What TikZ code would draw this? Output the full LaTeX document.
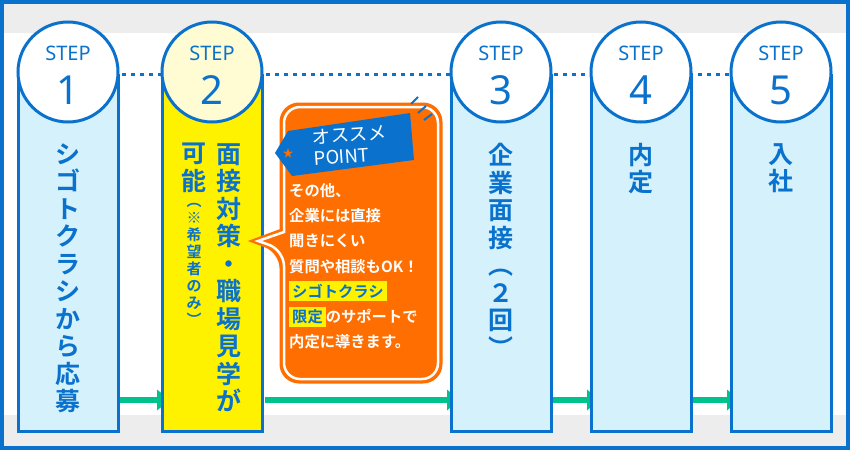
\documentclass[tikz,border=0pt]{standalone}
\usepackage{fontspec}
\setmainfont{Noto Sans CJK JP}[BoldFont={* Bold}]
\newfontfamily\stepfont{Noto Sans}
\usetikzlibrary{arrows.meta}
\definecolor{bl}{HTML}{0A72CC}
\definecolor{lb}{HTML}{D4F1FC}
\definecolor{yl}{HTML}{FFF200}
\definecolor{cy}{HTML}{FFFBD2}
\definecolor{og}{HTML}{FF6E00}
\definecolor{gn}{HTML}{00C28C}
\definecolor{gy}{HTML}{EDEDED}
\begin{document}
\begin{tikzpicture}[x=1pt,y=-1pt,
  col/.style={draw=bl,line width=3pt},
  circ/.style={draw=bl,line width=3pt,fill=white,circle,minimum size=100pt,inner sep=0pt},
  vt/.style={text=bl,font=\bfseries\fontsize{25}{27.5}\selectfont,align=center,anchor=north,inner sep=0pt},
  garr/.style={gn,line width=6pt,-{Triangle[length=13pt,width=20pt]}},
  dots/.style={bl,line width=3pt,dash pattern=on 4pt off 5pt}]
\useasboundingbox (0,0) rectangle (850,450);
\fill[gy] (0,0) rectangle (850,450);
\fill[white] (0,33) rectangle (850,415);
\draw[bl,line width=4pt] (2,2) rectangle (848,448);
% dotted line
\draw[dots] (68,74) -- (781,74);
% arrows
\draw[garr] (120,400) -- (170,400);
\draw[garr] (265,400) -- (460,400);
\draw[garr] (553,400) -- (600,400);
\draw[garr] (693,400) -- (740,400);
% columns
\foreach \c/\f/\cf/\n in {68/lb/white/1,212/yl/cy/2,501/lb/white/3,641/lb/white/4,781/lb/white/5}{
  \draw[col,fill=\f] (\c-50,75) rectangle (\c+50,431);
  \node[circ,fill=\cf] (s\n) at (\c,72) {};
  \node[text=bl,font=\stepfont\fontsize{20}{20}\selectfont] at (\c,53) {STEP};
  \node[text=bl,font=\stepfont\fontsize{40}{40}\selectfont] at (\c,90) {\n};
}
% texts
\node[vt] (t1) at (68,143) {シ\\ゴ\\ト\\ク\\ラ\\シ\\か\\ら\\応\\募};
\node[vt] (t2a) at (229,143) {面\\接\\対\\策\\・\\職\\場\\見\\学\\が};
\node[vt] (t2b) at (194,143) {可\\能};
\node[text=bl,font=\bfseries\fontsize{15}{17}\selectfont,align=center,anchor=north,inner sep=0pt] (t2c) at (194,203) {︵\\※\\希\\望\\者\\の\\み\\︶};
\node[vt] (t3) at (501,143) {企\\業\\面\\接\\︵\\２\\回\\︶};
\node[vt] (t4) at (641,143) {内\\定};
\node[vt] (t5) at (781,143) {入\\社};
% callout
\draw[og,line width=5pt,rounded corners=17pt] (282,105) -- (440,105) -- (440,381) -- (282,381) -- (282,251) [sharp corners]-- (255,241) -- (282,231) [rounded corners=17pt]-- cycle;
\draw[white,line width=2.5pt,fill=og,rounded corners=16pt] (284,107) -- (438,107) -- (438,379) -- (284,379) -- (284,250) [sharp corners]-- (258,241) -- (284,232) [rounded corners=16pt]-- cycle;
\draw[bl,line width=2pt] (411,104) -- (418,97) (418,113) -- (426,106) (424,120) -- (432,114);
\fill[bl] (275,153) -- (288,131) -- (410,113) -- (414,160) -- (292,176) -- cycle;
\node[text=og,font=\fontsize{11}{11}\selectfont,inner sep=0pt] at (288,153) {★};
\node[text=white,font=\fontsize{18.5}{21}\selectfont,align=left,rotate=4,inner sep=0pt] (tag) at (350,145) {オススメ\\POINT};
\node[text=white,font=\bfseries\fontsize{15.3}{25.3}\selectfont,align=left,anchor=north west,inner sep=0pt] (ct) at (289,183)
 {その他、\\企業には直接\\聞きにくい\\質問や相談もOK！\\\colorbox{yl}{\textcolor{bl}{シゴトクラシ}}\\\colorbox{yl}{\textcolor{bl}{限定}}のサポートで\\内定に導きます。};
\end{tikzpicture}
\end{document}
